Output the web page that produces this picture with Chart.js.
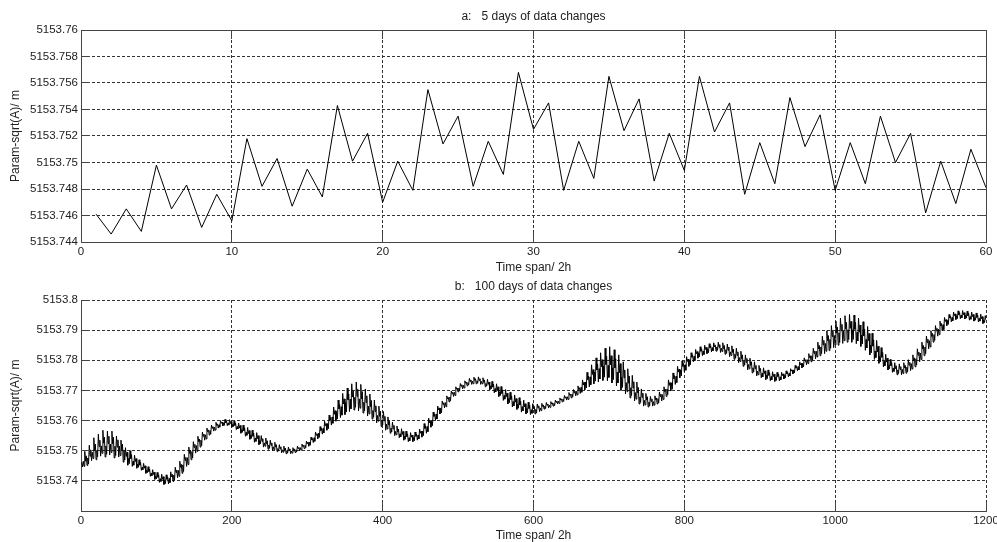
<!DOCTYPE html>
<html>
<head>
<meta charset="utf-8">
<script src="https://cdn.jsdelivr.net/npm/chart.js@4.4.0/dist/chart.umd.min.js"></script>
<style>
  body { margin: 0; background: #fff; }
  canvas { display: block; }
</style>
</head>
<body>
<canvas id="chartA" width="997" height="276"></canvas>
<canvas id="chartB" width="997" height="266"></canvas>
<script>
// panel a: 5 days, one sample every 2 h (samples 1..60)
var valuesA = [
  5153.7461, 5153.7446, 5153.7465, 5153.7448, 5153.7498, 5153.7465, 5153.7483, 5153.7451, 5153.7476, 5153.7456,
  5153.7518, 5153.7482, 5153.7503, 5153.7467, 5153.7495, 5153.7474, 5153.7543, 5153.7501, 5153.7522, 5153.7470,
  5153.7501, 5153.7479, 5153.7555, 5153.7514, 5153.7535, 5153.7482, 5153.7516, 5153.7491, 5153.7568, 5153.7525,
  5153.7545, 5153.7479, 5153.7516, 5153.7488, 5153.7565, 5153.7524, 5153.7548, 5153.7486, 5153.7522, 5153.7494,
  5153.7565, 5153.7523, 5153.7545, 5153.7476, 5153.7515, 5153.7484, 5153.7549, 5153.7512, 5153.7536, 5153.7479,
  5153.7515, 5153.7484, 5153.7535, 5153.7500, 5153.7522, 5153.7462, 5153.7501, 5153.7469, 5153.7510, 5153.7481
];
var xTicksA = [0, 10, 20, 30, 40, 50, 60];
var yTicksA = [5153.744, 5153.746, 5153.748, 5153.75, 5153.752, 5153.754, 5153.756, 5153.758, 5153.76];
var yLabelsA = ['5153.744', '5153.746', '5153.748', '5153.75', '5153.752', '5153.754', '5153.756', '5153.758', '5153.76'];

// panel b: 100 days. the first 60 samples are panel a, these are samples 61..1200
// (one row per 12 h cycle: trough, up, down, crest, down, up)
var laterB = [
  5153.7495,
  5153.7452, 5153.7474, 5153.7457, 5153.7500, 5153.7474, 5153.7487,
  5153.7448, 5153.7465, 5153.7452, 5153.7485, 5153.7464, 5153.7474,
  5153.7442, 5153.7455, 5153.7445, 5153.7470, 5153.7452, 5153.7461,
  5153.7435, 5153.7445, 5153.7437, 5153.7458, 5153.7442, 5153.7450,
  5153.7425, 5153.7435, 5153.7427, 5153.7447, 5153.7431, 5153.7439,
  5153.7415, 5153.7425, 5153.7417, 5153.7437, 5153.7421, 5153.7429,
  5153.7405, 5153.7415, 5153.7407, 5153.7428, 5153.7412, 5153.7420,
  5153.7395, 5153.7407, 5153.7398, 5153.7422, 5153.7405, 5153.7414,
  5153.7388, 5153.7402, 5153.7391, 5153.7420, 5153.7405, 5153.7412,
  5153.7390, 5153.7408, 5153.7394, 5153.7430, 5153.7414, 5153.7422,
  5153.7398, 5153.7419, 5153.7403, 5153.7445, 5153.7428, 5153.7436,
  5153.7410, 5153.7435, 5153.7415, 5153.7465, 5153.7445, 5153.7455,
  5153.7425, 5153.7453, 5153.7431, 5153.7488, 5153.7468, 5153.7478,
  5153.7448, 5153.7477, 5153.7454, 5153.7512, 5153.7491, 5153.7502,
  5153.7470, 5153.7497, 5153.7476, 5153.7530, 5153.7511, 5153.7521,
  5153.7492, 5153.7517, 5153.7498, 5153.7548, 5153.7530, 5153.7539,
  5153.7512, 5153.7535, 5153.7517, 5153.7562, 5153.7548, 5153.7555,
  5153.7535, 5153.7553, 5153.7539, 5153.7575, 5153.7563, 5153.7569,
  5153.7552, 5153.7567, 5153.7555, 5153.7585, 5153.7575, 5153.7580,
  5153.7565, 5153.7578, 5153.7568, 5153.7594, 5153.7584, 5153.7589,
  5153.7575, 5153.7586, 5153.7578, 5153.7600, 5153.7591, 5153.7595,
  5153.7582, 5153.7592, 5153.7584, 5153.7604, 5153.7593, 5153.7599,
  5153.7583, 5153.7592, 5153.7585, 5153.7603, 5153.7590, 5153.7597,
  5153.7578, 5153.7587, 5153.7580, 5153.7598, 5153.7584, 5153.7591,
  5153.7570, 5153.7580, 5153.7572, 5153.7592, 5153.7575, 5153.7584,
  5153.7558, 5153.7570, 5153.7561, 5153.7585, 5153.7566, 5153.7576,
  5153.7548, 5153.7561, 5153.7551, 5153.7577, 5153.7557, 5153.7567,
  5153.7538, 5153.7552, 5153.7541, 5153.7568, 5153.7548, 5153.7558,
  5153.7528, 5153.7542, 5153.7531, 5153.7560, 5153.7540, 5153.7550,
  5153.7520, 5153.7534, 5153.7523, 5153.7550, 5153.7531, 5153.7540,
  5153.7512, 5153.7526, 5153.7515, 5153.7542, 5153.7523, 5153.7533,
  5153.7505, 5153.7519, 5153.7508, 5153.7535, 5153.7518, 5153.7526,
  5153.7500, 5153.7513, 5153.7503, 5153.7528, 5153.7512, 5153.7520,
  5153.7497, 5153.7507, 5153.7499, 5153.7520, 5153.7506, 5153.7513,
  5153.7493, 5153.7503, 5153.7495, 5153.7515, 5153.7502, 5153.7509,
  5153.7490, 5153.7500, 5153.7492, 5153.7512, 5153.7501, 5153.7506,
  5153.7490, 5153.7499, 5153.7492, 5153.7510, 5153.7502, 5153.7506,
  5153.7494, 5153.7503, 5153.7496, 5153.7515, 5153.7507, 5153.7511,
  5153.7500, 5153.7510, 5153.7502, 5153.7522, 5153.7514, 5153.7518,
  5153.7507, 5153.7518, 5153.7510, 5153.7532, 5153.7523, 5153.7528,
  5153.7515, 5153.7528, 5153.7518, 5153.7545, 5153.7536, 5153.7540,
  5153.7527, 5153.7543, 5153.7531, 5153.7562, 5153.7551, 5153.7556,
  5153.7540, 5153.7558, 5153.7544, 5153.7580, 5153.7567, 5153.7574,
  5153.7555, 5153.7574, 5153.7559, 5153.7598, 5153.7583, 5153.7590,
  5153.7568, 5153.7590, 5153.7573, 5153.7618, 5153.7601, 5153.7610,
  5153.7585, 5153.7612, 5153.7591, 5153.7645, 5153.7621, 5153.7633,
  5153.7598, 5153.7630, 5153.7605, 5153.7668, 5153.7639, 5153.7653,
  5153.7610, 5153.7646, 5153.7618, 5153.7690, 5153.7655, 5153.7672,
  5153.7620, 5153.7660, 5153.7629, 5153.7708, 5153.7669, 5153.7688,
  5153.7630, 5153.7671, 5153.7639, 5153.7722, 5153.7678, 5153.7700,
  5153.7635, 5153.7677, 5153.7644, 5153.7728, 5153.7680, 5153.7704,
  5153.7632, 5153.7672, 5153.7641, 5153.7720, 5153.7672, 5153.7696,
  5153.7625, 5153.7661, 5153.7633, 5153.7705, 5153.7660, 5153.7682,
  5153.7615, 5153.7648, 5153.7622, 5153.7688, 5153.7646, 5153.7667,
  5153.7605, 5153.7633, 5153.7611, 5153.7668, 5153.7630, 5153.7649,
  5153.7592, 5153.7617, 5153.7598, 5153.7648, 5153.7614, 5153.7631,
  5153.7580, 5153.7602, 5153.7585, 5153.7630, 5153.7599, 5153.7614,
  5153.7568, 5153.7588, 5153.7572, 5153.7612, 5153.7585, 5153.7598,
  5153.7558, 5153.7575, 5153.7562, 5153.7595, 5153.7572, 5153.7584,
  5153.7550, 5153.7564, 5153.7553, 5153.7582, 5153.7562, 5153.7572,
  5153.7543, 5153.7556, 5153.7546, 5153.7573, 5153.7554, 5153.7564,
  5153.7535, 5153.7548, 5153.7538, 5153.7565, 5153.7547, 5153.7556,
  5153.7530, 5153.7543, 5153.7533, 5153.7560, 5153.7545, 5153.7552,
  5153.7530, 5153.7544, 5153.7533, 5153.7562, 5153.7548, 5153.7555,
  5153.7535, 5153.7552, 5153.7539, 5153.7572, 5153.7558, 5153.7565,
  5153.7545, 5153.7565, 5153.7550, 5153.7590, 5153.7574, 5153.7582,
  5153.7558, 5153.7580, 5153.7563, 5153.7608, 5153.7593, 5153.7600,
  5153.7578, 5153.7600, 5153.7583, 5153.7628, 5153.7614, 5153.7621,
  5153.7600, 5153.7622, 5153.7605, 5153.7648, 5153.7635, 5153.7642,
  5153.7622, 5153.7641, 5153.7626, 5153.7665, 5153.7654, 5153.7659,
  5153.7642, 5153.7660, 5153.7646, 5153.7682, 5153.7672, 5153.7677,
  5153.7662, 5153.7678, 5153.7666, 5153.7698, 5153.7689, 5153.7694,
  5153.7680, 5153.7694, 5153.7683, 5153.7712, 5153.7704, 5153.7708,
  5153.7695, 5153.7708, 5153.7698, 5153.7723, 5153.7714, 5153.7719,
  5153.7705, 5153.7717, 5153.7708, 5153.7732, 5153.7724, 5153.7728,
  5153.7715, 5153.7726, 5153.7718, 5153.7740, 5153.7730, 5153.7735,
  5153.7720, 5153.7731, 5153.7722, 5153.7744, 5153.7733, 5153.7739,
  5153.7722, 5153.7732, 5153.7724, 5153.7745, 5153.7733, 5153.7739,
  5153.7720, 5153.7730, 5153.7722, 5153.7742, 5153.7727, 5153.7735,
  5153.7712, 5153.7723, 5153.7715, 5153.7737, 5153.7720, 5153.7728,
  5153.7702, 5153.7715, 5153.7705, 5153.7730, 5153.7711, 5153.7721,
  5153.7692, 5153.7706, 5153.7695, 5153.7722, 5153.7701, 5153.7712,
  5153.7680, 5153.7695, 5153.7683, 5153.7713, 5153.7690, 5153.7702,
  5153.7667, 5153.7683, 5153.7671, 5153.7703, 5153.7679, 5153.7691,
  5153.7655, 5153.7673, 5153.7659, 5153.7694, 5153.7670, 5153.7682,
  5153.7645, 5153.7663, 5153.7649, 5153.7685, 5153.7661, 5153.7673,
  5153.7637, 5153.7655, 5153.7641, 5153.7676, 5153.7652, 5153.7664,
  5153.7628, 5153.7646, 5153.7632, 5153.7668, 5153.7645, 5153.7656,
  5153.7622, 5153.7640, 5153.7626, 5153.7661, 5153.7640, 5153.7651,
  5153.7620, 5153.7636, 5153.7624, 5153.7656, 5153.7639, 5153.7647,
  5153.7622, 5153.7637, 5153.7625, 5153.7655, 5153.7642, 5153.7649,
  5153.7630, 5153.7642, 5153.7633, 5153.7657, 5153.7647, 5153.7652,
  5153.7638, 5153.7648, 5153.7640, 5153.7660, 5153.7651, 5153.7655,
  5153.7642, 5153.7651, 5153.7644, 5153.7663, 5153.7655, 5153.7659,
  5153.7648, 5153.7657, 5153.7650, 5153.7668, 5153.7661, 5153.7665,
  5153.7655, 5153.7664, 5153.7657, 5153.7675, 5153.7668, 5153.7672,
  5153.7662, 5153.7671, 5153.7664, 5153.7683, 5153.7675, 5153.7679,
  5153.7668, 5153.7679, 5153.7670, 5153.7693, 5153.7684, 5153.7688,
  5153.7675, 5153.7688, 5153.7678, 5153.7703, 5153.7692, 5153.7698,
  5153.7682, 5153.7697, 5153.7685, 5153.7715, 5153.7702, 5153.7709,
  5153.7690, 5153.7710, 5153.7694, 5153.7735, 5153.7718, 5153.7727,
  5153.7702, 5153.7728, 5153.7708, 5153.7760, 5153.7736, 5153.7748,
  5153.7712, 5153.7745, 5153.7719, 5153.7785, 5153.7753, 5153.7769,
  5153.7722, 5153.7761, 5153.7731, 5153.7808, 5153.7768, 5153.7788,
  5153.7728, 5153.7772, 5153.7738, 5153.7825, 5153.7779, 5153.7802,
  5153.7733, 5153.7781, 5153.7744, 5153.7840, 5153.7786, 5153.7813,
  5153.7732, 5153.7783, 5153.7743, 5153.7845, 5153.7785, 5153.7815,
  5153.7725, 5153.7775, 5153.7736, 5153.7835, 5153.7775, 5153.7805,
  5153.7715, 5153.7761, 5153.7725, 5153.7818, 5153.7759, 5153.7789,
  5153.7700, 5153.7743, 5153.7710, 5153.7795, 5153.7742, 5153.7768,
  5153.7688, 5153.7726, 5153.7696, 5153.7772, 5153.7724, 5153.7748,
  5153.7675, 5153.7709, 5153.7683, 5153.7750, 5153.7708, 5153.7729,
  5153.7665, 5153.7693, 5153.7671, 5153.7728, 5153.7692, 5153.7710,
  5153.7655, 5153.7678, 5153.7660, 5153.7705, 5153.7677, 5153.7691,
  5153.7648, 5153.7667, 5153.7652, 5153.7690, 5153.7668, 5153.7679,
  5153.7645, 5153.7661, 5153.7649, 5153.7680, 5153.7664, 5153.7672,
  5153.7648, 5153.7663, 5153.7651, 5153.7682, 5153.7669, 5153.7675,
  5153.7655, 5153.7673, 5153.7659, 5153.7695, 5153.7680, 5153.7688,
  5153.7665, 5153.7686, 5153.7670, 5153.7712, 5153.7696, 5153.7704,
  5153.7680, 5153.7705, 5153.7686, 5153.7735, 5153.7717, 5153.7726,
  5153.7698, 5153.7725, 5153.7704, 5153.7758, 5153.7739, 5153.7749,
  5153.7720, 5153.7747, 5153.7726, 5153.7780, 5153.7761, 5153.7771,
  5153.7742, 5153.7767, 5153.7748, 5153.7798, 5153.7780, 5153.7789,
  5153.7762, 5153.7785, 5153.7767, 5153.7812, 5153.7796, 5153.7804,
  5153.7780, 5153.7800, 5153.7785, 5153.7825, 5153.7810, 5153.7818,
  5153.7795, 5153.7813, 5153.7799, 5153.7836, 5153.7822, 5153.7829,
  5153.7807, 5153.7824, 5153.7811, 5153.7845, 5153.7830, 5153.7838,
  5153.7815, 5153.7831, 5153.7819, 5153.7850, 5153.7836, 5153.7843,
  5153.7822, 5153.7837, 5153.7825, 5153.7855, 5153.7842, 5153.7848,
  5153.7828, 5153.7842, 5153.7831, 5153.7858, 5153.7844, 5153.7851,
  5153.7830, 5153.7844, 5153.7833, 5153.7860, 5153.7843, 5153.7852,
  5153.7826, 5153.7840, 5153.7829, 5153.7858, 5153.7839, 5153.7849,
  5153.7820, 5153.7835, 5153.7823, 5153.7854, 5153.7833, 5153.7844,
  5153.7812, 5153.7828, 5153.7816, 5153.7848, 5153.7826, 5153.7837,
  5153.7803, 5153.7820, 5153.7807, 5153.7840, 5153.7816, 5153.7828,
  5153.7792, 5153.7809, 5153.7796, 5153.7830, 5153.7805, 5153.7818,
  5153.7780, 5153.7797, 5153.7784, 5153.7818, 5153.7793, 5153.7806,
  5153.7768, 5153.7786, 5153.7772, 5153.7807, 5153.7783, 5153.7795,
  5153.7758, 5153.7775, 5153.7762, 5153.7795, 5153.7772, 5153.7783,
  5153.7748, 5153.7764, 5153.7752, 5153.7783, 5153.7763, 5153.7773,
  5153.7742, 5153.7757, 5153.7745, 5153.7775, 5153.7756, 5153.7765,
  5153.7736, 5153.7750, 5153.7739, 5153.7768, 5153.7750, 5153.7759,
  5153.7732, 5153.7746, 5153.7735, 5153.7762, 5153.7746, 5153.7754,
  5153.7730, 5153.7744, 5153.7733, 5153.7760, 5153.7746, 5153.7753,
  5153.7732, 5153.7745, 5153.7735, 5153.7760, 5153.7749, 5153.7755,
  5153.7738, 5153.7750, 5153.7741, 5153.7765, 5153.7755, 5153.7760,
  5153.7745, 5153.7757, 5153.7748, 5153.7772, 5153.7764, 5153.7768,
  5153.7755, 5153.7768, 5153.7758, 5153.7783, 5153.7774, 5153.7779,
  5153.7765, 5153.7779, 5153.7768, 5153.7795, 5153.7785, 5153.7790,
  5153.7775, 5153.7790, 5153.7778, 5153.7808, 5153.7797, 5153.7802,
  5153.7785, 5153.7802, 5153.7789, 5153.7822, 5153.7809, 5153.7815,
  5153.7795, 5153.7815, 5153.7800, 5153.7840, 5153.7823, 5153.7831,
  5153.7805, 5153.7830, 5153.7811, 5153.7860, 5153.7838, 5153.7849,
  5153.7815, 5153.7844, 5153.7822, 5153.7880, 5153.7851, 5153.7866,
  5153.7822, 5153.7856, 5153.7830, 5153.7898, 5153.7865, 5153.7882,
  5153.7832, 5153.7869, 5153.7840, 5153.7915, 5153.7879, 5153.7897,
  5153.7842, 5153.7882, 5153.7851, 5153.7930, 5153.7890, 5153.7910,
  5153.7850, 5153.7891, 5153.7859, 5153.7940, 5153.7898, 5153.7919,
  5153.7856, 5153.7897, 5153.7865, 5153.7948, 5153.7904, 5153.7926,
  5153.7860, 5153.7901, 5153.7869, 5153.7952, 5153.7906, 5153.7929,
  5153.7860, 5153.7901, 5153.7869, 5153.7950, 5153.7903, 5153.7926,
  5153.7855, 5153.7893, 5153.7864, 5153.7940, 5153.7893, 5153.7917,
  5153.7846, 5153.7883, 5153.7854, 5153.7928, 5153.7881, 5153.7904,
  5153.7833, 5153.7869, 5153.7841, 5153.7912, 5153.7865, 5153.7889,
  5153.7818, 5153.7850, 5153.7825, 5153.7890, 5153.7847, 5153.7868,
  5153.7803, 5153.7831, 5153.7809, 5153.7866, 5153.7828, 5153.7847,
  5153.7790, 5153.7813, 5153.7795, 5153.7842, 5153.7810, 5153.7826,
  5153.7778, 5153.7797, 5153.7782, 5153.7820, 5153.7794, 5153.7807,
  5153.7768, 5153.7784, 5153.7772, 5153.7803, 5153.7782, 5153.7792,
  5153.7760, 5153.7774, 5153.7763, 5153.7792, 5153.7772, 5153.7782,
  5153.7752, 5153.7768, 5153.7756, 5153.7788, 5153.7770, 5153.7779,
  5153.7752, 5153.7770, 5153.7756, 5153.7792, 5153.7775, 5153.7783,
  5153.7757, 5153.7777, 5153.7762, 5153.7802, 5153.7784, 5153.7793,
  5153.7766, 5153.7789, 5153.7771, 5153.7818, 5153.7798, 5153.7808,
  5153.7778, 5153.7805, 5153.7784, 5153.7838, 5153.7817, 5153.7827,
  5153.7795, 5153.7824, 5153.7802, 5153.7860, 5153.7838, 5153.7849,
  5153.7815, 5153.7844, 5153.7822, 5153.7880, 5153.7859, 5153.7870,
  5153.7838, 5153.7865, 5153.7844, 5153.7898, 5153.7879, 5153.7889,
  5153.7860, 5153.7885, 5153.7866, 5153.7915, 5153.7898, 5153.7906,
  5153.7880, 5153.7903, 5153.7885, 5153.7930, 5153.7914, 5153.7922,
  5153.7898, 5153.7918, 5153.7902, 5153.7942, 5153.7929, 5153.7935,
  5153.7915, 5153.7932, 5153.7919, 5153.7952, 5153.7940, 5153.7946,
  5153.7928, 5153.7942, 5153.7931, 5153.7960, 5153.7948, 5153.7954,
  5153.7935, 5153.7948, 5153.7938, 5153.7964, 5153.7951, 5153.7958,
  5153.7938, 5153.7950, 5153.7941, 5153.7965, 5153.7951, 5153.7958,
  5153.7937, 5153.7949, 5153.7940, 5153.7963, 5153.7948, 5153.7956,
  5153.7933, 5153.7945, 5153.7936, 5153.7960, 5153.7945, 5153.7952,
  5153.7930, 5153.7942, 5153.7933, 5153.7957, 5153.7942, 5153.7950,
  5153.7927, 5153.7939, 5153.7930, 5153.7953, 5153.7938, 5153.7945,
  5153.7922, 5153.7934, 5153.7925, 5153.7948, 5153.7934
];
var valuesB = valuesA.concat(laterB);
var xTicksB = [0, 200, 400, 600, 800, 1000, 1200];
var yTicksB = [5153.73, 5153.74, 5153.75, 5153.76, 5153.77, 5153.78, 5153.79, 5153.8];
var yLabelsB = ['', '5153.74', '5153.75', '5153.76', '5153.77', '5153.78', '5153.79', '5153.8'];

var FONT = '"Liberation Sans", Arial, sans-serif';
var TEXT = '#222';
var AXIS = '#444';

// panel title, centred over the plot area
var panelTitle = {
  id: 'panelTitle',
  afterDraw: function (chart, args, opts) {
    var ctx = chart.ctx, a = chart.chartArea;
    ctx.save();
    ctx.font = '12px ' + FONT;
    ctx.fillStyle = TEXT;
    ctx.textAlign = 'center';
    ctx.textBaseline = 'middle';
    ctx.fillText(opts.text, (a.left + a.right) / 2, opts.y);
    ctx.restore();
  }
};

// inward tick marks (and the box for panel a), like matlab axes
var matlabAxes = {
  id: 'matlabAxes',
  afterDraw: function (chart, args, opts) {
    var ctx = chart.ctx, a = chart.chartArea;
    var xs = chart.scales.x, ys = chart.scales.y;
    var len = 9;
    var al = function (p) { return Math.round(p - 0.5) + 0.5; };
    ctx.save();
    ctx.strokeStyle = AXIS;
    ctx.lineWidth = 1;
    ctx.beginPath();
    xs.ticks.forEach(function (t) {
      var px = al(xs.getPixelForValue(t.value));
      ctx.moveTo(px, a.bottom); ctx.lineTo(px, a.bottom - len);
      if (opts.box) { ctx.moveTo(px, a.top); ctx.lineTo(px, a.top + len); }
    });
    ys.ticks.forEach(function (t) {
      var py = al(ys.getPixelForValue(t.value));
      ctx.moveTo(a.left, py); ctx.lineTo(a.left + len, py);
      if (opts.box) { ctx.moveTo(a.right, py); ctx.lineTo(a.right - len, py); }
    });
    ctx.stroke();
    if (opts.box) {
      ctx.strokeRect(al(a.left), al(a.top), Math.round(a.right - a.left), Math.round(a.bottom - a.top));
    }
    ctx.restore();
  }
};

function buildChart(id, values, p) {
  return new Chart(document.getElementById(id), {
    type: 'line',
    data: {
      datasets: [{
        data: values.map(function (v, i) { return { x: i + 1, y: v }; }),
        borderColor: '#000',
        borderWidth: 1,
        pointRadius: 0,
        tension: 0
      }]
    },
    plugins: [panelTitle, matlabAxes],
    options: {
      responsive: false,
      animation: false,
      devicePixelRatio: 1,
      layout: { padding: { top: p.top, right: 11, bottom: 0, left: 0 } },
      plugins: {
        legend: { display: false },
        tooltip: { enabled: false },
        panelTitle: { text: p.title, y: p.titleY },
        matlabAxes: { box: p.box }
      },
      scales: {
        x: {
          type: 'linear',
          min: p.xTicks[0],
          max: p.xTicks[p.xTicks.length - 1],
          afterBuildTicks: function (s) { s.ticks = p.xTicks.map(function (v) { return { value: v }; }); },
          afterFit: function (s) { s.height = p.xHeight; s.paddingLeft = 0; s.paddingRight = 0; },
          ticks: {
            padding: 2.5, color: TEXT, autoSkip: false, maxRotation: 0,
            font: { family: FONT, size: 11.5 },
            callback: function (v) { return String(v); }
          },
          grid: { color: '#333', lineWidth: 1, drawTicks: false },
          border: { display: true, color: AXIS, width: 1, dash: [3, 2] },
          title: {
            display: true, text: 'Time span/ 2h', color: TEXT,
            font: { family: FONT, size: 12, lineHeight: 1 },
            padding: { top: 0, bottom: p.xTitlePad }
          }
        },
        y: {
          min: p.yTicks[0],
          max: p.yTicks[p.yTicks.length - 1],
          afterBuildTicks: function (s) { s.ticks = p.yTicks.map(function (v) { return { value: v }; }); },
          afterFit: function (s) { s.width = 81; s.paddingTop = 0; s.paddingBottom = 0; },
          ticks: {
            padding: 3, color: TEXT, autoSkip: false,
            font: { family: FONT, size: 11.5 },
            callback: function (v, i) { return p.yLabels[i]; }
          },
          grid: { color: '#333', lineWidth: 1, drawTicks: false },
          border: { display: true, color: AXIS, width: 1, dash: [3, 2] },
          title: {
            display: true, text: 'Param-sqrt(A)/ m', color: TEXT,
            font: { family: FONT, size: 12, lineHeight: 1 },
            padding: { top: 9.5, bottom: 0 }
          }
        }
      }
    }
  });
}

buildChart('chartA', valuesA, {
  title: 'a:   5 days of data changes', titleY: 17, box: true,
  top: 30, xHeight: 34, xTitlePad: 2.5,
  xTicks: xTicksA, yTicks: yTicksA, yLabels: yLabelsA
});
buildChart('chartB', valuesB, {
  title: 'b:   100 days of data changes', titleY: 11, box: false,
  top: 24, xHeight: 31, xTitlePad: 0,
  xTicks: xTicksB, yTicks: yTicksB, yLabels: yLabelsB
});
</script>
</body>
</html>
